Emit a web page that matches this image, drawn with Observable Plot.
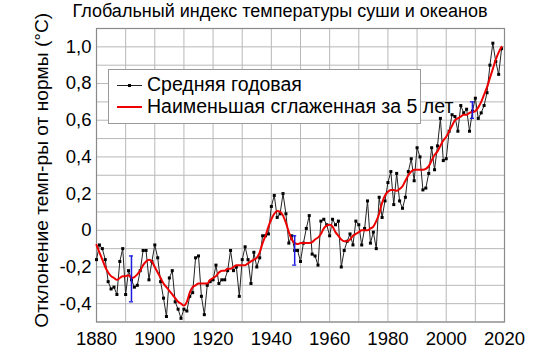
<!DOCTYPE html>
<html><head><meta charset="utf-8">
<script src="https://cdn.jsdelivr.net/npm/d3@7"></script>
<script src="https://cdn.jsdelivr.net/npm/@observablehq/plot@0.6"></script>
<style>
body{margin:0;background:#fff;font-family:"Liberation Sans",Arial,sans-serif;color:#000;}
#wrap{position:relative;width:550px;height:352px;}
#title{position:absolute;left:0;top:1.5px;width:560px;text-align:center;font-size:18px;line-height:18px;white-space:nowrap;}
#legend{position:absolute;left:107.5px;top:69px;width:313px;height:55px;box-sizing:border-box;border:1px solid #999;background:#fff;}
.lt{position:absolute;font-size:19.5px;line-height:19.5px;white-space:nowrap;}
.sw{position:absolute;}
</style></head>
<body>
<div id="wrap"></div>
<script>
const years = [1880,1881,1882,1883,1884,1885,1886,1887,1888,1889,1890,1891,1892,1893,1894,1895,1896,1897,1898,1899,
1900,1901,1902,1903,1904,1905,1906,1907,1908,1909,1910,1911,1912,1913,1914,1915,1916,1917,1918,1919,
1920,1921,1922,1923,1924,1925,1926,1927,1928,1929,1930,1931,1932,1933,1934,1935,1936,1937,1938,1939,
1940,1941,1942,1943,1944,1945,1946,1947,1948,1949,1950,1951,1952,1953,1954,1955,1956,1957,1958,1959,
1960,1961,1962,1963,1964,1965,1966,1967,1968,1969,1970,1971,1972,1973,1974,1975,1976,1977,1978,1979,
1980,1981,1982,1983,1984,1985,1986,1987,1988,1989,1990,1991,1992,1993,1994,1995,1996,1997,1998,1999,
2000,2001,2002,2003,2004,2005,2006,2007,2008,2009,2010,2011,2012,2013,2014,2015,2016,2017,2018,2019];
const annual = [-0.16,-0.08,-0.10,-0.16,-0.28,-0.32,-0.31,-0.35,-0.17,-0.10,-0.35,-0.22,-0.27,-0.31,-0.30,-0.22,-0.11,-0.11,-0.27,-0.17,
-0.08,-0.15,-0.28,-0.37,-0.47,-0.26,-0.22,-0.39,-0.43,-0.48,-0.43,-0.44,-0.36,-0.34,-0.15,-0.14,-0.36,-0.46,-0.30,-0.28,
-0.27,-0.19,-0.29,-0.27,-0.27,-0.22,-0.11,-0.22,-0.20,-0.36,-0.16,-0.09,-0.16,-0.29,-0.12,-0.20,-0.15,-0.03,-0.03,-0.02,
0.13,0.19,0.07,0.09,0.20,0.09,-0.07,-0.03,-0.11,-0.11,-0.17,-0.07,0.01,0.08,-0.13,-0.14,-0.19,0.05,0.06,0.03,
-0.03,0.06,0.03,0.05,-0.20,-0.11,-0.06,-0.02,-0.08,0.05,0.03,-0.08,0.01,0.16,-0.07,-0.01,-0.10,0.18,0.07,0.16,
0.26,0.32,0.14,0.31,0.16,0.12,0.18,0.32,0.39,0.27,0.45,0.40,0.22,0.23,0.31,0.45,0.33,0.46,0.61,0.38,
0.39,0.54,0.63,0.62,0.54,0.68,0.64,0.66,0.54,0.65,0.72,0.61,0.64,0.68,0.75,0.90,1.02,0.92,0.85,0.99];
const smooth = [-0.08,-0.12,-0.16,-0.20,-0.23,-0.25,-0.26,-0.27,-0.26,-0.25,-0.25,-0.245,-0.26,-0.255,-0.24,-0.22,-0.19,-0.17,-0.16,-0.17,
-0.20,-0.23,-0.26,-0.29,-0.31,-0.33,-0.35,-0.37,-0.39,-0.40,-0.41,-0.39,-0.34,-0.31,-0.30,-0.29,-0.29,-0.29,-0.29,-0.27,
-0.26,-0.25,-0.23,-0.22,-0.22,-0.21,-0.21,-0.20,-0.19,-0.19,-0.19,-0.19,-0.18,-0.17,-0.16,-0.15,-0.12,-0.07,-0.03,0.02,
0.06,0.09,0.105,0.10,0.08,0.04,-0.01,-0.05,-0.07,-0.075,-0.07,-0.07,-0.07,-0.07,-0.065,-0.05,-0.04,-0.02,0.01,0.025,
0.03,0.02,-0.01,-0.03,-0.05,-0.06,-0.06,-0.05,-0.03,-0.02,-0.01,0.00,0.00,0.00,0.01,0.02,0.05,0.09,0.15,0.19,
0.21,0.22,0.22,0.215,0.225,0.24,0.27,0.30,0.32,0.33,0.33,0.33,0.33,0.335,0.35,0.38,0.41,0.43,0.46,0.49,
0.51,0.54,0.57,0.60,0.61,0.62,0.63,0.63,0.64,0.645,0.65,0.67,0.70,0.74,0.78,0.83,0.88,0.93,0.97,1.00];
const errYears = [1892, 1948, 2009];
const errLow = [-0.39, -0.19, 0.61];
const errHigh = [-0.14, -0.03, 0.70];
const xTicks = [1880,1900,1920,1940,1960,1980,2000,2020];
const yTicks = [-0.4,-0.2,0,0.2,0.4,0.6,0.8,1.0];
const xGrid = [1880,1890,1900,1910,1920,1930,1940,1950,1960,1970,1980,1990,2000,2010,2020];
const yGrid = [-0.5,-0.4,-0.3,-0.2,-0.1,0,0.1,0.2,0.3,0.4,0.5,0.6,0.7,0.8,0.9,1.0,1.1];
const titleText = "Глобальный индекс температуры суши и океанов";
const yLabel = "Отклонение темп-ры от нормы (°C)";
const legendLabels = ["Средняя годовая", "Наименьшая сглаженная за 5 лет"];

const data = years.map((y, i) => ({year: y, annual: annual[i], smooth: smooth[i]}));
const errs = errYears.map((y, i) => ({year: y, lo: errLow[i], hi: errHigh[i]}));
const fmt = d => d === 0 ? "0" : d.toFixed(1).replace(".", ",");
const blue = "#1c1ce0";

const chart = Plot.plot({
  width: 550, height: 352,
  marginLeft: 96, marginRight: 46, marginTop: 28, marginBottom: 30.5,
  style: {fontFamily: "Liberation Sans, Arial, sans-serif", fontSize: "18px", background: "white", color: "black"},
  x: {domain: [1880, 2020]},
  y: {domain: [-0.5, 1.1]},
  marks: [
    Plot.ruleX(xGrid, {stroke: "#b8b8b8", strokeWidth: 1}),
    Plot.ruleY(yGrid, {stroke: "#b8b8b8", strokeWidth: 1}),
    Plot.frame({stroke: "#8a8a8a", strokeWidth: 1.2}),
    Plot.axisX({ticks: xTicks, tickFormat: d => String(d), tickSize: 0, tickPadding: 10, fontSize: 18.5, label: null}),
    Plot.axisY({ticks: yTicks, tickFormat: fmt, tickSize: 0, tickPadding: 5, fontSize: 18.5, label: null}),
    Plot.text([yLabel], {frameAnchor: "left", text: d => d, rotate: -90, textAnchor: "middle", lineAnchor: "middle", dx: -55, dy: -5, fontSize: 19.2, fill: "black"}),
    Plot.line(data, {x: "year", y: "annual", stroke: "#222", strokeWidth: 1}),
    Plot.dot(data, {x: "year", y: "annual", symbol: "square", r: 1.7, fill: "#000", stroke: null}),
    Plot.line(data, {x: "year", y: "smooth", stroke: "#ee0000", strokeWidth: 2, curve: "monotone-x"}),
    Plot.ruleX(errs, {x: "year", y1: "lo", y2: "hi", stroke: blue, strokeWidth: 1.5}),
    Plot.ruleY(errs, {y: "lo", x1: d => d.year - 0.7, x2: d => d.year + 0.7, stroke: blue, strokeWidth: 1.3}),
    Plot.ruleY(errs, {y: "hi", x1: d => d.year - 0.7, x2: d => d.year + 0.7, stroke: blue, strokeWidth: 1.3})
  ]
});
const wrap = document.getElementById("wrap");
wrap.appendChild(chart);

const title = document.createElement("div");
title.id = "title"; title.textContent = titleText;
wrap.appendChild(title);

const legend = document.createElement("div");
legend.id = "legend";
wrap.appendChild(legend);
function abs(cls, css, text) {
  const el = document.createElement("div");
  el.className = cls; el.style.cssText = css;
  if (text) el.textContent = text;
  wrap.appendChild(el);
}
abs("sw", "left:116.5px;top:84.5px;width:25px;height:1px;background:#222;");
abs("sw", "left:127.5px;top:83.5px;width:3px;height:3px;background:#000;");
abs("sw", "left:116.5px;top:105.7px;width:25px;height:2px;background:#ee0000;");
abs("lt", "left:147px;top:75px;", legendLabels[0]);
abs("lt", "left:147px;top:97.3px;", legendLabels[1]);
</script>
</body></html>
